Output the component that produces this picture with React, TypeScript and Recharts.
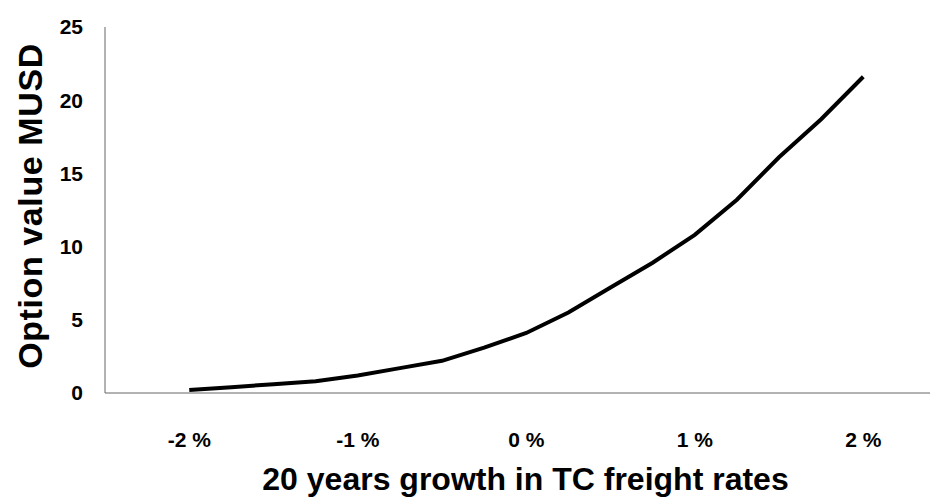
import React from "react";
import { LineChart, Line, XAxis, YAxis, Label } from "recharts";

// growth in TC freight rates (%), one point every quarter percent
const growthPct = [-2, -1.75, -1.5, -1.25, -1, -0.75, -0.5, -0.25, 0, 0.25, 0.5, 0.75, 1, 1.25, 1.5, 1.75, 2];
// option value, MUSD
const optionValue = [0.2, 0.4, 0.6, 0.8, 1.2, 1.7, 2.2, 3.1, 4.1, 5.5, 7.2, 8.9, 10.8, 13.2, 16.1, 18.7, 21.6];

const xTicks = [-2, -1, 0, 1, 2];
const yTicks = [0, 5, 10, 15, 20, 25];

const FONT = "'Liberation Sans', Arial, sans-serif";

const data = growthPct.map((g, i) => ({ growth: g, value: optionValue[i] }));

export default function App() {
  return (
    <div style={{ position: "absolute", left: 0, top: 0, width: 930, height: 499, background: "#fff" }}>
      <LineChart width={930} height={499} data={data} margin={{ top: 27, right: 0, bottom: 0, left: 0 }}>
        <XAxis
          dataKey="growth"
          type="number"
          domain={[-2.5, 2.396]}
          ticks={xTicks}
          tickFormatter={(v) => `${v} %`}
          height={106}
          tickLine={false}
          tickMargin={33}
          stroke="#666"
          tick={{ fill: "#000", fontSize: 21, fontWeight: 700, fontFamily: FONT }}
        >
          <Label
            value="20 years growth in TC freight rates"
            position="insideBottom"
            offset={9}
            dx={8}
            style={{ fill: "#000", fontSize: 32, fontWeight: 700, fontFamily: FONT }}
          />
        </XAxis>
        <YAxis
          domain={[0, 25]}
          ticks={yTicks}
          width={105}
          tickLine={false}
          tickMargin={16}
          stroke="#666"
          tick={{ fill: "#000", fontSize: 21, fontWeight: 700, fontFamily: FONT }}
        >
          <Label
            content={() => (
              <text
                x={30}
                y={206}
                transform="rotate(-90 30 206)"
                textAnchor="middle"
                dominantBaseline="central"
                style={{ fill: "#000", fontSize: 34, fontWeight: 700, fontFamily: FONT, letterSpacing: 0.6 }}
              >
                Option value MUSD
              </text>
            )}
          />
        </YAxis>
        <Line
          type="linear"
          dataKey="value"
          stroke="#000"
          strokeWidth={4}
          dot={false}
          isAnimationActive={false}
        />
      </LineChart>
    </div>
  );
}
